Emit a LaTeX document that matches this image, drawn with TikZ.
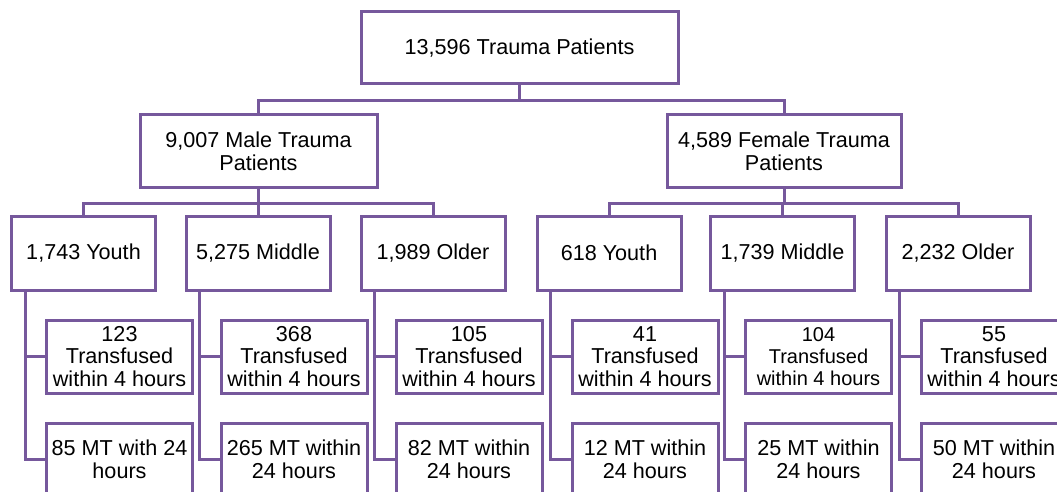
\documentclass[tikz,border=0pt]{standalone}
\usepackage{fontspec}
\setmainfont{Liberation Sans}
\usetikzlibrary{positioning}
\definecolor{boxpurple}{RGB}{118,88,156}
\tikzset{
    % Define box style
    pbox/.style 2 args={
           draw=boxpurple,
           line width=2.25pt,
           fill=white,
           align=center,
           inner sep=0pt,
           minimum width={0.75pt*#1},
           minimum height={0.75pt*#2},
           font=\fontsize{16.2}{17}\selectfont},
    % Define connector style
    link/.style={
           draw=boxpurple,
           line width=2.25pt}
}

\begin{document}
\begin{tikzpicture}[x=0.75pt,y=-0.75pt]
\fill[white] (0,0) rectangle (1057,492);
\useasboundingbox (0,0) rectangle (1057,492);
\clip (0,0) rectangle (1057,492);

% top levels
\node[pbox={317}{72}] (root) at (519.5,48) {13,596 Trauma Patients};
\node[pbox={237}{72}] (male) at (258.5,151) {9,007 Male Trauma\\Patients};
\node[pbox={234}{72}] (female) at (784,151) {4,589 Female Trauma\\Patients};

\draw[link] (root.south) -- ++(0,15) coordinate (rootbar);
\draw[link] (rootbar) -| (male.north);
\draw[link] (rootbar) -| (female.north);

% age groups
\node[pbox={144}{74}] (my) at (83.5,253) {1,743 Youth};
\node[pbox={144}{74}] (mm) at (258,253) {5,275 Middle};
\node[pbox={144}{74}] (mo) at (433,253) {1,989 Older};
\node[pbox={144}{74}] (fy) at (609,253) {618 Youth};
\node[pbox={144}{74}] (fm) at (782.5,253) {1,739 Middle};
\node[pbox={144}{74}] (fo) at (958,253) {2,232 Older};

\draw[link] (male.south) -- ++(0,15) coordinate (malebar);
\draw[link] (malebar) -| (my.north);
\draw[link] (malebar) -| (mm.north);
\draw[link] (malebar) -| (mo.north);
\draw[link] (female.south) -- ++(0,15) coordinate (femalebar);
\draw[link] (femalebar) -| (fy.north);
\draw[link] (femalebar) -| (fm.north);
\draw[link] (femalebar) -| (fo.north);

% transfused within 4 hours
\node[pbox={146}{73}] (myt) at (119.5,356.5) {123\\Transfused\\within 4 hours};
\node[pbox={146}{73}] (mmt) at (294,356.5) {368\\Transfused\\within 4 hours};
\node[pbox={146}{73}] (mot) at (469,356.5) {105\\Transfused\\within 4 hours};
\node[pbox={146}{73}] (fyt) at (645,356.5) {41\\Transfused\\within 4 hours};
\node[pbox={146}{73}, font=\fontsize{15}{16.5}\selectfont] (fmt) at (818.5,356.5) {104\\Transfused\\within 4 hours};
\node[pbox={146}{73}] (fot) at (994,356.5) {55\\Transfused\\within 4 hours};

% MT within 24 hours
\node[pbox={146}{73}] (mym) at (119.5,459.5) {85 MT with 24\\hours};
\node[pbox={146}{73}] (mmm) at (294,459.5) {265 MT within\\24 hours};
\node[pbox={146}{73}] (mom) at (469,459.5) {82 MT within\\24 hours};
\node[pbox={146}{73}] (fym) at (645,459.5) {12 MT within\\24 hours};
\node[pbox={146}{73}] (fmm) at (818.5,459.5) {25 MT within\\24 hours};
\node[pbox={146}{73}] (fom) at (994,459.5) {50 MT within\\24 hours};

\foreach \n in {my,mm,mo,fy,fm,fo}{
  \draw[link] ([xshift=11.25pt]\n.south west) |- (\n t.west);
  \draw[link] ([xshift=11.25pt]\n.south west) |- (\n m.west);
}

\end{tikzpicture}
\end{document}
